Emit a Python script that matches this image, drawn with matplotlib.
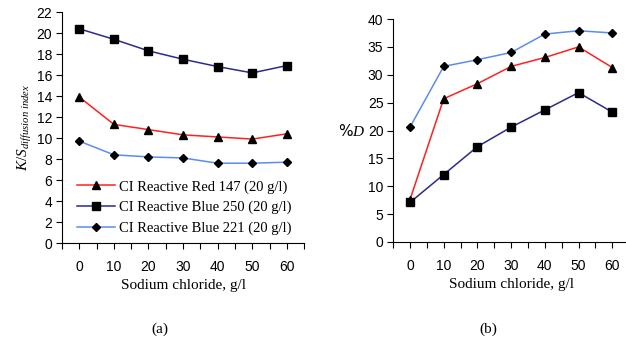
import numpy as np
from matplotlib import pyplot as plt

salt = [0, 10, 20, 30, 40, 50, 60]

# (a) K/S diffusion index
ks_red147 = [13.9, 11.3, 10.8, 10.3, 10.1, 9.9, 10.4]
ks_blue250 = [20.4, 19.4, 18.3, 17.5, 16.8, 16.2, 16.9]
ks_blue221 = [9.7, 8.4, 8.2, 8.1, 7.6, 7.6, 7.7]

# (b) %D
d_red147 = [7.6, 25.7, 28.4, 31.5, 33.1, 35.0, 31.3]
d_blue250 = [7.1, 12.1, 17.1, 20.6, 23.7, 26.8, 23.3]
d_blue221 = [20.6, 31.5, 32.7, 34.0, 37.3, 37.9, 37.5]

labels = ['CI Reactive Red 147 (20 g/l)',
          'CI Reactive Blue 250 (20 g/l)',
          'CI Reactive Blue 221 (20 g/l)']
colors = ['#FF2020', '#2B2B8C', '#5B8CF0']
markers = ['^', 's', 'D']
msizes = [6.0, 6.0, 4.5]

serif = 'Liberation Serif'
sans = 'Liberation Sans'

plt.rcParams['mathtext.fontset'] = 'custom'
plt.rcParams['mathtext.rm'] = 'Liberation Serif'
plt.rcParams['mathtext.it'] = 'Liberation Serif:italic'

fig = plt.figure(figsize=(6.26, 3.43), dpi=100)
axA = fig.add_axes([0.099, 0.2915, 0.387, 0.6735])
axB = fig.add_axes([0.628, 0.2945, 0.377, 0.650])


def style_axis(ax, ymax, ystep):
    x = np.arange(len(salt))
    ax.set_xlim(-0.5, len(salt) - 0.5)
    ax.set_ylim(0, ymax)
    ax.set_yticks(np.arange(0, ymax + 0.1, ystep))
    ax.set_xticks(x)
    ax.set_xticks(np.arange(-0.5, len(salt), 1.0), minor=True)
    ax.set_xticklabels([str(s) for s in salt], fontfamily=sans, fontsize=10)
    for t in ax.get_yticklabels():
        t.set_fontfamily(sans)
        t.set_fontsize(10)
    ax.tick_params(axis='x', which='both', direction='out', length=4, width=0.8, pad=8)
    ax.tick_params(axis='y', direction='out', length=4, width=0.8, pad=3)
    ax.spines['top'].set_visible(False)
    ax.spines['right'].set_visible(False)
    ax.spines['left'].set_linewidth(0.8)
    ax.spines['bottom'].set_linewidth(0.8)
    ax.set_xlabel('Sodium chloride, g/l', fontfamily=serif, fontsize=11, labelpad=4)


x = np.arange(len(salt))
for vals, c, m, ms, lab in zip([ks_red147, ks_blue250, ks_blue221], colors, markers, msizes, labels):
    axA.plot(x, vals, color=c, lw=1.1, marker=m, ms=ms, mfc='black', mec='black', label=lab)
for vals, c, m, ms in zip([d_red147, d_blue250, d_blue221], colors, markers, msizes):
    axB.plot(x, vals, color=c, lw=1.1, marker=m, ms=ms, mfc='black', mec='black')

style_axis(axA, 22, 2)
style_axis(axB, 40, 5)

axA.set_ylabel('$K/S_{diffusion\\ index}$', fontsize=11, labelpad=2)
axB.set_ylabel('%$D$', fontsize=11, rotation=0, ha='right', va='center')
axB.yaxis.set_label_coords(-0.12, 0.5)

axA.legend(loc='lower left', bbox_to_anchor=(0.02, -0.01), frameon=False,
           prop={'family': serif, 'size': 10.5}, handlelength=2.6,
           handletextpad=0.3, labelspacing=0.5, borderaxespad=0.3)

fig.text(0.256, 0.03, '(a)', fontfamily=serif, fontsize=11, ha='center')
fig.text(0.78, 0.03, '(b)', fontfamily=serif, fontsize=11, ha='center')

fig.savefig('out.png', dpi=100)
